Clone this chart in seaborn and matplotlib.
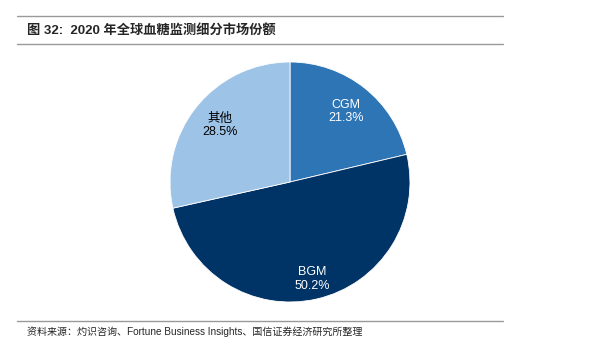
import matplotlib
matplotlib.use("Agg")
import matplotlib.pyplot as plt
import seaborn as sns
import numpy as np

categories = ["CGM", "BGM", "其他"]
shares = [21.3, 50.2, 28.5]
colors = ["#2E75B6", "#003366", "#9DC3E6"]
text_colors = ["white", "white", "black"]

sns.set_theme(style="white")
plt.rcParams['font.family'] = ['Liberation Sans', 'Noto Sans CJK SC', 'DejaVu Sans']

fig = plt.figure(figsize=(5.9, 3.6), dpi=100)
W, H = 590, 360

# header/footer lines
for y in (16, 44, 321):
    fig.add_artist(plt.Line2D([17 / W, 503 / W], [1 - y / H, 1 - y / H],
                              color="#999999", lw=1.0))
fig.text(27 / W, 1 - 30 / H, "图 32:  2020 年全球血糖监测细分市场份额",
         fontsize=9.5, fontweight="bold", va="center", ha="left")
fig.text(27 / W, 1 - 332 / H,
         "资料来源：灼识咨询、Fortune Business Insights、国信证券经济研究所整理",
         fontsize=7.2, va="center", ha="left")

r = 120
cx, cy = 290, 182
ax = fig.add_axes([(cx - r) / W, 1 - (cy + r) / H, 2 * r / W, 2 * r / H])
labels = [f"{c}\n{v:.1f}%" for c, v in zip(categories, shares)]
wedges, texts = ax.pie(shares, colors=colors, startangle=90, counterclock=False,
                       labels=labels, labeldistance=0.75,
                       wedgeprops=dict(linewidth=0.6, edgecolor="white"),
                       textprops=dict(fontsize=9, ha="center", va="center",
                                      linespacing=1.15))
for t, tc in zip(texts, text_colors):
    t.set_color(tc)
    t.set_ha("center")
# BGM label sits a bit further out
x, y = texts[1].get_position()
texts[1].set_position((x * 0.83 / 0.75, y * 0.83 / 0.75))
ax.set_xlim(-1, 1)
ax.set_ylim(-1, 1)
ax.set_aspect("equal")
ax.axis("off")

fig.savefig("out.png", dpi=100)
